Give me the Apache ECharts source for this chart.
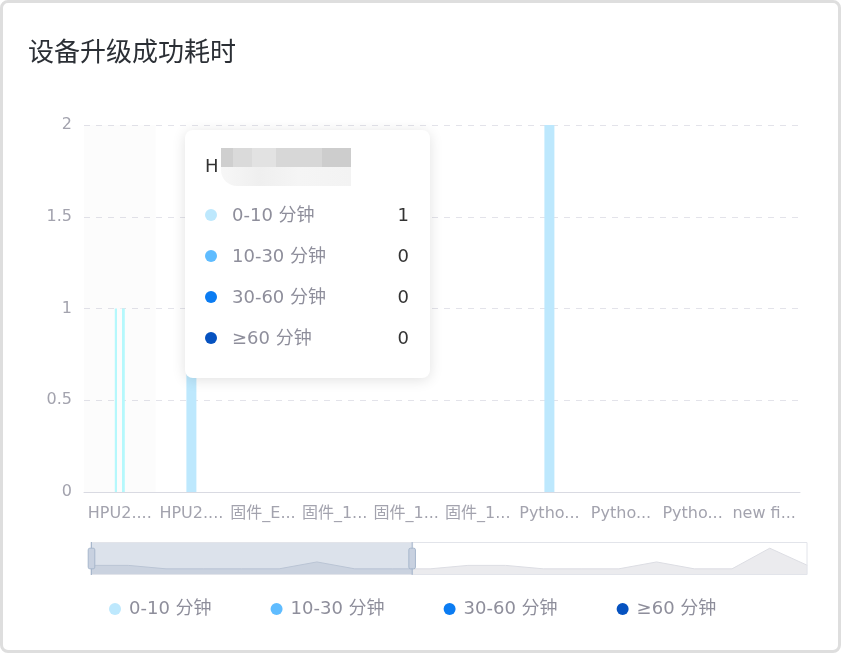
<!DOCTYPE html>
<html><head><meta charset="utf-8">
<script src="https://cdn.jsdelivr.net/npm/echarts@6/dist/echarts.min.js"></script>
<style>
html,body{margin:0;padding:0;background:#fff;}
#c{position:absolute;left:0;top:0;width:841px;height:653px;}
#frame{position:absolute;left:0;top:0;width:841px;height:653px;box-sizing:border-box;border:3px solid #dedede;border-radius:8px;pointer-events:none;}
</style></head>
<body><div id="c"></div><div id="frame"></div>
<script>
const categories = [
  'HPU2.1.3_release','HPU2.2.0_release','固件_Edge_v1.2','固件_1.0.5','固件_1.1.0',
  '固件_1.2.3','Python.3.8.10','Python.3.9.7','Python.3.10.2','new firmware 1.0',
  'new firmware 2.0','HPU3.0.1_release','固件_2.0.1','固件_E2.1','Python.3.11.4',
  '固件_1.3.0','HPU2.3.1_release','new firmware 2.1','固件_1.4.2','Python.3.12.0'
];
const seriesNames = ['0-10 分钟','10-30 分钟','30-60 分钟','≥60 分钟'];
const seriesColors = ['#bde8fd','#5fbcff','#0b7cf2','#0652c0'];
const v0to10  = [1,1,0,0,0,0,2,0,0,0,1,1,0,0,0,2,0,0,6,1];
const v10to30 = [0,0,0,0,0,0,0,0,0,0,0,0,0,0,0,0,0,0,0,0];
const v30to60 = [0,0,0,0,0,0,0,0,0,0,0,0,0,0,0,0,0,0,0,0];
const v60plus = [0,0,0,0,0,0,0,0,0,0,0,0,0,0,0,0,0,0,0,0];
const yMin = 0, yMax = 2, yInterval = 0.5;
const hoveredIndex = 0;

const valueSets = [v0to10, v10to30, v30to60, v60plus];
const FONT = "'DejaVu Sans','Noto Sans CJK SC',sans-serif";

const hoverColor = new echarts.graphic.LinearGradient(0, 0, 1, 0, [
  { offset: 0, color: '#b6fbff' }, { offset: 0.24, color: '#b6fbff' },
  { offset: 0.24, color: '#ffffff' }, { offset: 0.76, color: '#ffffff' },
  { offset: 0.76, color: '#b6fbff' }, { offset: 1, color: '#b6fbff' }
]);

const series = valueSets.map((vals, si) => ({
  name: seriesNames[si],
  type: 'bar',
  stack: 'total',
  barWidth: 10,
  emphasis: { disabled: true },
  itemStyle: { color: seriesColors[si] },
  data: vals.map((v, i) => (si === 0 && i === hoveredIndex)
    ? { value: v, itemStyle: { color: hoverColor } }
    : v)
}));

const chart = echarts.init(document.getElementById('c'), null, { renderer: 'canvas' });
chart.setOption({
  animation: false,
  color: seriesColors,
  title: {
    text: '设备升级成功耗时', left: 28, top: 38, padding: 0,
    textStyle: { fontSize: 26, fontWeight: 'normal', color: '#2b2f35', fontFamily: "'Noto Sans CJK SC',sans-serif" }
  },
  grid: { left: 84, right: 41, top: 125, bottom: 161 },
  tooltip: {
    trigger: 'axis',
    alwaysShowContent: true,
    transitionDuration: 0,
    axisPointer: { type: 'shadow', triggerEmphasis: false, shadowStyle: { color: 'rgba(150,150,160,0.03)' } },
    position: [185, 130],
    padding: 0,
    borderWidth: 0,
    borderRadius: 8,
    backgroundColor: '#fff',
    extraCssText: 'box-shadow:0 2px 14px rgba(0,0,0,0.12);',
    formatter: function (params) {
      let html = '<div style="width:204px;height:228px;padding:16px 21px 4px 20px;font-family:' + FONT.replace(/'/g, '&quot;') + ';">';
      html += '<div style="height:40px;line-height:40px;font-size:18px;color:#333;margin-bottom:8px;white-space:nowrap;">H'
        + '<span style="display:inline-block;vertical-align:middle;width:130px;height:38px;margin-left:2px;">'
        + '<span style="display:block;height:19px;background:linear-gradient(to right,#cfcfcf 0,#cfcfcf 9%,#dadada 9%,#dadada 24%,#e2e2e2 24%,#e2e2e2 42%,#d7d7d7 42%,#d7d7d7 78%,#cdcdcd 78%,#cdcdcd 100%);"></span>'
        + '<span style="display:block;height:19px;border-radius:0 0 0 16px;background:linear-gradient(to right,#f7f7f7 0,#efefef 30%,#f5f5f5 60%,#f3f3f3 100%);"></span>'
        + '</span></div>';
      params.forEach(p => {
        html += '<div style="height:41px;line-height:41px;font-size:18px;display:flex;align-items:center;">'
          + '<span style="display:inline-block;width:12px;height:12px;border-radius:6px;background:' + seriesColors[p.seriesIndex] + ';margin-right:15px;"></span>'
          + '<span style="color:#8e8e9b;flex:1;">' + p.seriesName + '</span>'
          + '<span style="color:#333;">' + p.value + '</span></div>';
      });
      html += '</div>';
      return html;
    }
  },
  legend: {
    data: seriesNames,
    top: 595,
    left: 104,
    icon: 'circle',
    itemWidth: 12,
    itemHeight: 12,
    itemGap: 59,
    textStyle: { fontSize: 18, color: '#8e8e9b', fontFamily: FONT, padding: [0, 0, 0, 3] }
  },
  dataZoom: [{
    type: 'slider',
    xAxisIndex: 0,
    start: 0,
    end: 45,
    left: 88,
    right: 36,
    top: 542,
    height: 33,
    showDetail: false,
    moveHandleSize: 0,
    brushSelect: false,
    borderColor: '#e2e4ea',
    backgroundColor: '#fff',
    fillerColor: 'rgba(167,183,204,0.4)',
    handleStyle: { color: '#c8d1e0', borderColor: '#a7b7cc' },
    dataBackground: { lineStyle: { color: '#dcdde3', width: 1 }, areaStyle: { color: '#ebebee', opacity: 1 } },
    selectedDataBackground: { lineStyle: { color: '#c6cdd9', width: 1 }, areaStyle: { color: '#c4ccd9', opacity: 0.5 } }
  }],
  xAxis: {
    type: 'category',
    data: categories,
    axisLine: { lineStyle: { color: '#d9dae2' } },
    axisTick: { show: false },
    axisLabel: { interval: 0, color: '#a3a3ae', fontSize: 16, fontFamily: FONT, margin: 14, width: 71, overflow: 'truncate' }
  },
  yAxis: {
    type: 'value',
    min: yMin, max: yMax, interval: yInterval,
    axisLine: { show: false },
    axisTick: { show: false },
    axisLabel: { color: '#a3a3ae', fontSize: 16, fontFamily: FONT, margin: 12 },
    splitLine: { lineStyle: { type: [6, 6], color: '#e3e3ea' } }
  },
  series: series
});
chart.dispatchAction({ type: 'showTip', seriesIndex: 0, dataIndex: hoveredIndex });
</script>
</body></html>
